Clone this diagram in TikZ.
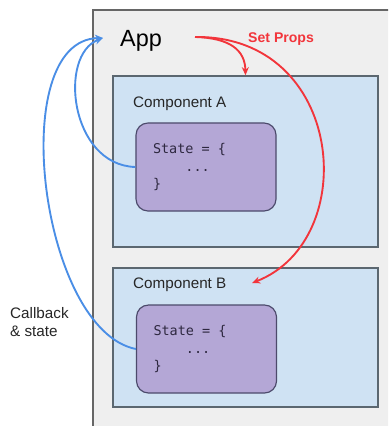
\documentclass[tikz,border=0pt]{standalone}
\usepackage{fontspec}
\setmainfont{Liberation Sans}
\setmonofont{DejaVu Sans Mono}
\usetikzlibrary{arrows.meta}
\definecolor{appfill}{HTML}{EFEFEF}
\definecolor{appline}{HTML}{666666}
\definecolor{compfill}{HTML}{CFE2F3}
\definecolor{compline}{HTML}{5B6770}
\definecolor{statefill}{HTML}{B4A7D6}
\definecolor{stateline}{HTML}{4C4A6B}
\definecolor{statetext}{HTML}{2E2840}
\definecolor{propred}{HTML}{F2353B}
\definecolor{cbblue}{HTML}{4A8EE6}
\newcommand{\stcode}{State{\char32}={\char32}\{\\\phantom{xxxx}...\\\}}
\begin{document}
\begin{tikzpicture}[x=0.03cm,y=-0.03cm,
  compbox/.style={draw=compline,fill=compfill,line width=1.2pt,minimum width=7.95cm,inner sep=0pt},
  statebox/.style={draw=stateline,fill=statefill,line width=1pt,rounded corners=0.36cm,
    minimum width=4.2cm,minimum height=2.64cm,text width=3.18cm,inner xsep=0.51cm,align=left,
    font=\ttfamily\fontsize{11.5}{15}\selectfont,text=statetext},
  label/.style={inner sep=0pt,anchor=base west,font=\fontsize{13}{15}\selectfont,text=black!85},
  propline/.style={draw=propred,line width=1.6pt,-{Stealth[length=7pt,width=6pt]}},
  cbline/.style={draw=cbblue,line width=1.6pt,-{Stealth[length=7pt,width=6pt]}}]
  \useasboundingbox (0,0) rectangle (388,426);
  \clip (0,0) rectangle (388,426);
  \fill[white] (0,0) rectangle (388,426);
  \draw[appline,fill=appfill,line width=1.2pt] (93,10) rectangle (420,460);
  \node[label,font=\fontsize{20}{22}\selectfont,text=black] (app) at (120,47) {App};
  \node[label,font=\bfseries\fontsize{12}{14}\selectfont,text=propred] (props) at (248,43) {Set Props};
  \node[compbox,minimum height=5.13cm] (compA) at (245.5,161.5) {};
  \node[compbox,minimum height=4.17cm] (compB) at (245.5,337.5) {};
  \node[label] (nameA) at (133,108) {Component A};
  \node[label] (nameB) at (133,288) {Component B};
  \node[statebox] (stateA) at (206,167) {\stcode};
  \node[statebox] (stateB) at (206.5,349) {\stcode};
  \node[label] (cb1) at (10,318) {Callback};
  \node[label] (cb2) at (10,336) {\& state};
  \coordinate (sp) at (195,37);
  \coordinate (cb) at (103,38);
  \draw[propline] (sp) .. controls (230,38) and (245,50) .. (compA.north);
  \draw[propline] (sp) .. controls (345,35) and (362,240) .. (252,283);
  \draw[cbline] (stateA.west) .. controls (70,165) and (58,55) .. (cb);
  \draw[cbline] (stateB.west) .. controls (40,330) and (5,40) .. (cb);
\end{tikzpicture}
\end{document}
